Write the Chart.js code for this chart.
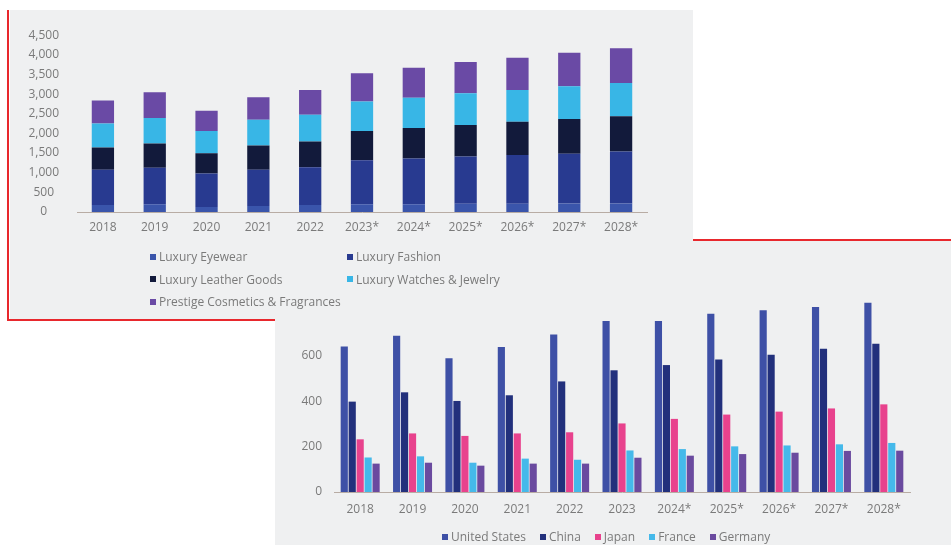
<!DOCTYPE html>
<html>
<head>
<meta charset="utf-8">
<script src="https://cdn.jsdelivr.net/npm/chart.js@4.4.1/dist/chart.umd.min.js"></script>
<style>
    body { margin: 0; background: #fff; font-family: 'Open Sans', sans-serif; }
    #page { position: relative; width: 951px; height: 545px; overflow: hidden; background: #fff; }
    .panel { position: absolute; background: #eff0f1; }
    #lowerPanel { left: 275px; top: 240px; width: 676px; height: 305px; z-index: 1; }
    #upperPanel { left: 10px; top: 10px; width: 683px; height: 311px; z-index: 2; }
    .red { position: absolute; background: #e8282d; z-index: 3; }
    canvas { position: absolute; left: 0; top: 0; }
    .legend { position: absolute; font-size: 12px; color: #7a7a7a; white-space: nowrap; }
    .item { position: absolute; display: flex; align-items: center; }
    .item i { display: inline-block; width: 6px; height: 6px; margin-right: 3px; }
    #lowerLegend { left: 167px; top: 288px; display: flex; gap: 14px; }
    #lowerLegend .item { position: static; }
</style>
</head>
<body>
<div id="page">
    <div id="lowerPanel" class="panel">
        <canvas id="lowerChart" width="676" height="305"></canvas>
        <div id="lowerLegend" class="legend"></div>
    </div>
    <div id="upperPanel" class="panel">
        <canvas id="upperChart" width="683" height="311"></canvas>
        <div id="upperLegend" class="legend"></div>
    </div>
    <div class="red" style="left:7px; top:10px; width:2px; height:311px;"></div>
    <div class="red" style="left:7px; top:319px; width:268px; height:2px;"></div>
    <div class="red" style="left:693px; top:239px; width:258px; height:2px;"></div>
</div>
<script>
// upper chart: segment sales
const upperYears = ['2018', '2019', '2020', '2021', '2022', '2023*', '2024*', '2025*', '2026*', '2027*', '2028*'];
const eyewear   = [180, 200, 130, 155, 180, 200, 200, 210, 210, 215, 215];
const fashion   = [895, 925, 850, 920, 960, 1120, 1160, 1200, 1240, 1270, 1325];
const leather   = [565, 620, 515, 615, 655, 740, 780, 805, 845, 885, 900];
const watches   = [615, 645, 565, 655, 680, 750, 770, 805, 810, 830, 845];
const cosmetics = [580, 655, 515, 575, 630, 720, 760, 795, 820, 855, 885];
const upperTicks = [0, 500, 1000, 1500, 2000, 2500, 3000, 3500, 4000, 4500];

// lower chart: countries
const lowerYears = ['2018', '2019', '2020', '2021', '2022', '2023', '2024*', '2025*', '2026*', '2027*', '2028*'];
const unitedStates = [641, 688, 589, 639, 694, 760, 775, 785, 800, 815, 833];
const china        = [398, 439, 401, 426, 487, 536, 559, 583, 605, 631, 653];
const japan        = [232, 258, 247, 258, 263, 302, 322, 341, 354, 368, 386];
const france       = [152, 157, 129, 147, 142, 183, 189, 201, 205, 210, 216];
const germany      = [125, 129, 116, 125, 125, 151, 160, 167, 173, 181, 182];

Chart.defaults.font.family = "'Open Sans', sans-serif";
Chart.defaults.font.size = 12;
Chart.defaults.color = '#7a7a7a';

const axisColor = '#b8aca4';

const upperSets = [
    { label: 'Luxury Eyewear', data: eyewear, backgroundColor: '#3a55ab' },
    { label: 'Luxury Fashion', data: fashion, backgroundColor: '#283a90' },
    { label: 'Luxury Leather Goods', data: leather, backgroundColor: '#121a3b' },
    { label: 'Luxury Watches & Jewelry', data: watches, backgroundColor: '#38b6e6' },
    { label: 'Prestige Cosmetics & Fragrances', data: cosmetics, backgroundColor: '#6a4aa5' }
];

const lowerSets = [
    { label: 'United States', data: unitedStates, backgroundColor: '#3e50a6' },
    { label: 'China', data: china, backgroundColor: '#22307c' },
    { label: 'Japan', data: japan, backgroundColor: '#e8428d' },
    { label: 'France', data: france, backgroundColor: '#45b9ea' },
    { label: 'Germany', data: germany, backgroundColor: '#6a4a9f' }
];

new Chart(document.getElementById('upperChart'), {
    type: 'bar',
    data: {
        labels: upperYears,
        datasets: upperSets.map(s => ({ ...s, barPercentage: 0.43, categoryPercentage: 1 }))
    },
    options: {
        responsive: false,
        animation: false,
        layout: { padding: { top: 19, right: 46, bottom: 0, left: 0 } },
        plugins: { legend: { display: false }, tooltip: { enabled: false } },
        scales: {
            x: {
                stacked: true,
                grid: { display: false, drawTicks: false },
                border: { display: true, color: axisColor, width: 1 },
                ticks: { padding: 8 },
                afterFit: s => { s.height = 109; }
            },
            y: {
                stacked: true,
                min: upperTicks[0],
                max: upperTicks[upperTicks.length - 1],
                grid: { display: false, drawTicks: false },
                border: { display: false },
                ticks: {
                    stepSize: upperTicks[1] - upperTicks[0],
                    padding: 18,
                    crossAlign: 'center',
                    callback: v => v.toLocaleString('en-US')
                },
                afterFit: s => { s.width = 67; }
            }
        }
    }
});

new Chart(document.getElementById('lowerChart'), {
    type: 'bar',
    data: {
        labels: lowerYears,
        datasets: lowerSets.map(s => ({ ...s, barPercentage: 0.9, categoryPercentage: 0.76 }))
    },
    options: {
        responsive: false,
        animation: false,
        layout: { padding: { top: 59, right: 41, bottom: 0, left: 0 } },
        plugins: { legend: { display: false }, tooltip: { enabled: false } },
        scales: {
            x: {
                grid: { display: false, drawTicks: false },
                border: { display: true, color: axisColor, width: 1 },
                ticks: { padding: 10 },
                afterFit: s => { s.height = 53; }
            },
            y: {
                min: 0,
                max: 850,
                grid: { display: false, drawTicks: false },
                border: { display: false },
                ticks: { stepSize: 200, padding: 12 },
                afterFit: s => { s.width = 59; }
            }
        }
    }
});

// legends
const upperLegend = document.getElementById('upperLegend');
upperSets.forEach((s, i) => {
    const el = document.createElement('div');
    el.className = 'item';
    el.style.left = (i % 2 === 0 ? 140 : 337) + 'px';
    el.style.top = (238 + Math.floor(i / 2) * 22.5) + 'px';
    el.innerHTML = '<i style="background:' + s.backgroundColor + '"></i>' + s.label;
    upperLegend.appendChild(el);
});

const lowerLegend = document.getElementById('lowerLegend');
lowerSets.forEach(s => {
    const el = document.createElement('div');
    el.className = 'item';
    el.innerHTML = '<i style="background:' + s.backgroundColor + '"></i>' + s.label;
    lowerLegend.appendChild(el);
});
</script>
</body>
</html>
